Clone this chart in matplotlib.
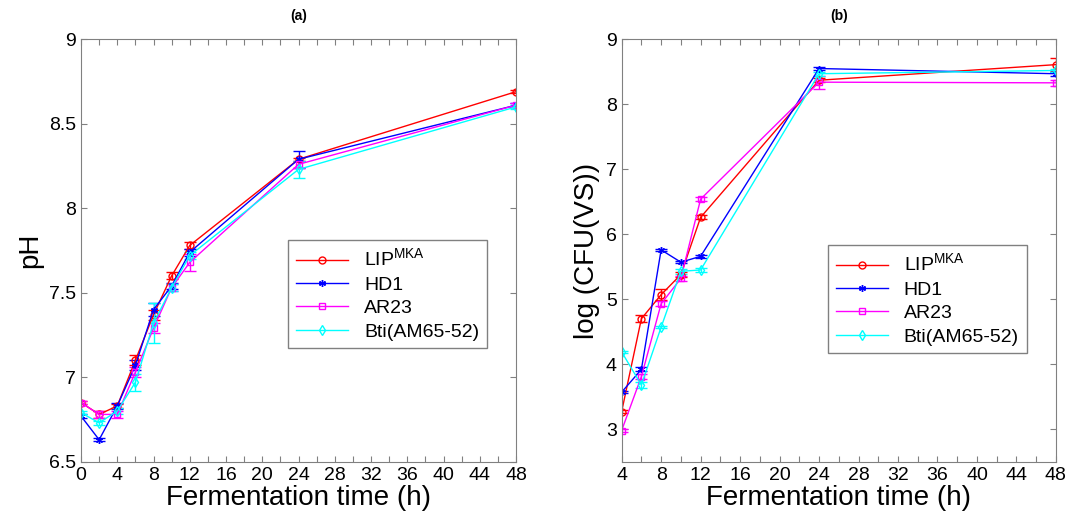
import matplotlib
matplotlib.use("Agg")
import matplotlib.pyplot as plt

plt.rcParams['font.family'] = ['Liberation Sans', 'DejaVu Sans']

# (a) pH vs fermentation time
t_a = [0, 2, 4, 6, 8, 10, 12, 24, 48]
ph_lip = [6.85, 6.78, 6.83, 7.10, 7.37, 7.60, 7.78, 8.29, 8.69]
ph_hd1 = [6.77, 6.63, 6.83, 7.07, 7.40, 7.54, 7.74, 8.29, 8.61]
ph_ar23 = [6.85, 6.78, 6.78, 7.03, 7.29, 7.53, 7.68, 8.26, 8.61]
ph_bti = [6.79, 6.73, 6.80, 6.97, 7.32, 7.53, 7.72, 8.23, 8.60]
ph_lip_err = [0.01, 0.02, 0.01, 0.03, 0.03, 0.02, 0.02, 0.01, 0.01]
ph_hd1_err = [0.01, 0.01, 0.02, 0.03, 0.04, 0.02, 0.02, 0.05, 0.01]
ph_ar23_err = [0.01, 0.02, 0.02, 0.03, 0.03, 0.02, 0.05, 0.02, 0.01]
ph_bti_err = [0.01, 0.01, 0.02, 0.05, 0.12, 0.02, 0.02, 0.05, 0.01]

# (b) log(CFU(VS)) vs fermentation time
t_b = [4, 6, 8, 10, 12, 24, 48]
cfu_lip = [3.27, 4.70, 5.07, 5.38, 6.26, 8.37, 8.61]
cfu_hd1 = [3.57, 3.92, 5.76, 5.57, 5.66, 8.55, 8.47]
cfu_ar23 = [2.98, 3.81, 4.93, 5.32, 6.54, 8.34, 8.33]
cfu_bti = [4.19, 3.68, 4.57, 5.43, 5.45, 8.47, 8.52]
cfu_lip_err = [0.02, 0.05, 0.08, 0.04, 0.03, 0.03, 0.10]
cfu_hd1_err = [0.02, 0.03, 0.02, 0.02, 0.02, 0.03, 0.03]
cfu_ar23_err = [0.02, 0.04, 0.04, 0.04, 0.03, 0.10, 0.05]
cfu_bti_err = [0.02, 0.04, 0.02, 0.04, 0.03, 0.03, 0.02]

labels = ['LIP$^{\\mathregular{MKA}}$', 'HD1', 'AR23', 'Bti(AM65-52)']
colors = ['#ff0000', '#0000ff', '#ff00ff', '#00ffff']
markers = ['o', (6, 2, 0), 's', 'd']


def draw(ax, t, ys, errs):
    lines = []
    for y, e, c, m, lab in zip(ys, errs, colors, markers, labels):
        cont = ax.errorbar(t, y, yerr=e, color=c, marker=m, markersize=5,
                           markerfacecolor='none', markeredgecolor=c,
                           linewidth=1, elinewidth=1, capsize=4, label=lab)
        lines.append(cont[0])
    for s in ax.spines.values():
        s.set_color('#808080')
    ax.tick_params(direction='in', top=True, right=True, colors='#808080',
                   labelcolor='black', labelsize=14, length=4)
    return lines


fig = plt.figure(figsize=(10.83, 5.21), dpi=100)
ax1 = fig.add_axes([0.0748, 0.1138, 0.4017, 0.8108])
ax2 = fig.add_axes([0.574, 0.1138, 0.401, 0.8108])

h1 = draw(ax1, t_a, [ph_lip, ph_hd1, ph_ar23, ph_bti],
          [ph_lip_err, ph_hd1_err, ph_ar23_err, ph_bti_err])
ax1.set_xlim(0, 48)
ax1.set_ylim(6.5, 9)
ax1.set_xticks(range(0, 49, 2))
ax1.set_xticklabels([str(v) if v % 4 == 0 else '' for v in range(0, 49, 2)])
ax1.set_yticks([6.5, 7, 7.5, 8, 8.5, 9])
ax1.set_yticklabels(['6.5', '7', '7.5', '8', '8.5', '9'])
ax1.set_xlabel('Fermentation time (h)', fontsize=20, labelpad=1)
ax1.set_ylabel('pH', fontsize=20, labelpad=4)
ax1.set_title('(a)', fontsize=10, fontweight='bold', pad=14)
ax1.legend(h1, labels, loc='upper left', bbox_to_anchor=(0.476, 0.525),
           fontsize=14, fancybox=False, edgecolor='#808080', framealpha=1,
           handlelength=2.7, labelspacing=0.3, borderaxespad=0)

h2 = draw(ax2, t_b, [cfu_lip, cfu_hd1, cfu_ar23, cfu_bti],
          [cfu_lip_err, cfu_hd1_err, cfu_ar23_err, cfu_bti_err])
ax2.set_xlim(4, 48)
ax2.set_ylim(2.5, 9)
ax2.set_xticks(range(4, 49, 2))
ax2.set_xticklabels([str(v) if v % 4 == 0 else '' for v in range(4, 49, 2)])
ax2.set_yticks(range(3, 10))
ax2.set_xlabel('Fermentation time (h)', fontsize=20, labelpad=1)
ax2.set_ylabel('log (CFU(VS))', fontsize=20, labelpad=4)
ax2.set_title('(b)', fontsize=10, fontweight='bold', pad=14)
ax2.legend(h2, labels, loc='upper left', bbox_to_anchor=(0.475, 0.513),
           fontsize=14, fancybox=False, edgecolor='#808080', framealpha=1,
           handlelength=2.7, labelspacing=0.3, borderaxespad=0)

fig.savefig('out.png', dpi=100)
